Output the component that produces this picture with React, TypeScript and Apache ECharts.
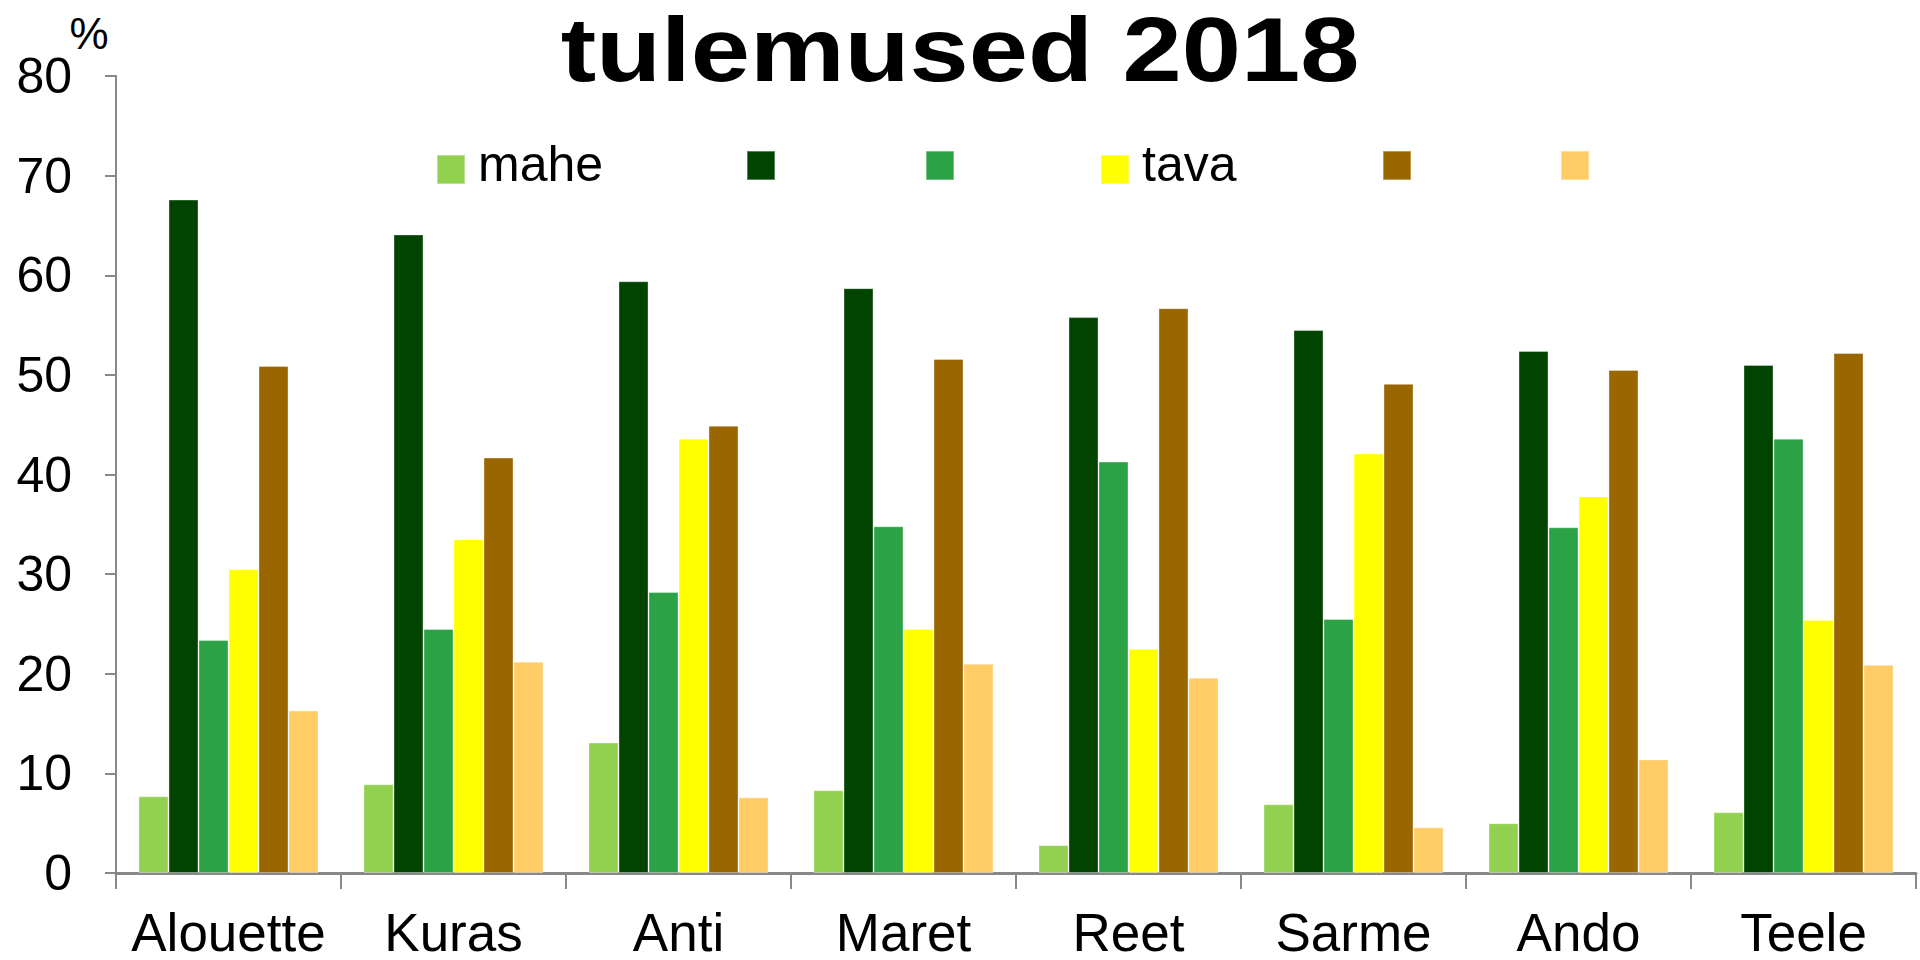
import React, { useEffect, useRef } from 'react';
import * as echarts from 'echarts';

const categories = ['Alouette', 'Kuras', 'Anti', 'Maret', 'Reet', 'Sarme', 'Ando', 'Teele'];
const seriesNames = ['mahe', 's2', 's3', 'tava', 's5', 's6'];
const legendLabels = ['mahe', '', '', 'tava', '', ''];
const mahe = [7.7, 8.9, 13.1, 8.3, 2.8, 6.9, 5.0, 6.1];
const darkGreen = [67.6, 64.1, 59.4, 58.7, 55.8, 54.5, 52.4, 51.0];
const green = [23.4, 24.5, 28.2, 34.8, 41.3, 25.5, 34.7, 43.6];
const tava = [30.5, 33.5, 43.6, 24.5, 22.5, 42.1, 37.8, 25.4];
const brown = [50.9, 41.7, 44.9, 51.6, 56.7, 49.1, 50.5, 52.2];
const orange = [16.3, 21.2, 7.6, 21.0, 19.6, 4.6, 11.4, 20.9];
const seriesValues = [mahe, darkGreen, green, tava, brown, orange];
const colors = ['#92D050', '#004400', '#2AA245', '#FFFF00', '#996600', '#FFCC66'];
const titleText = 'tulemused 2018';
const unitText = '%';

const FONT = '"Liberation Sans", Arial, Helvetica, sans-serif';
const legendLefts = [436, 746, 925, 1100, 1382, 1560];

export default function App() {
  const ref = useRef<HTMLDivElement>(null);
  useEffect(() => {
    if (!ref.current) return;
    const chart = echarts.init(ref.current, undefined, { renderer: 'svg' });
    const option: any = {
      animation: false,
      backgroundColor: '#ffffff',
      textStyle: { fontFamily: FONT, color: '#000' },
      grid: { left: 116, right: 4, top: 76, bottom: 87, containLabel: false },
      legend: seriesNames.map((n, i) => ({
        data: [n],
        left: legendLefts[i],
        top: 139,
        padding: 0,
        itemWidth: 28,
        itemHeight: 40,
        icon: 'path://M0,0M0,11h28v29h-28z',
        selectedMode: false,
        formatter: () => legendLabels[i],
        textStyle: { fontSize: 50, color: '#000', fontFamily: FONT, padding: [0, 0, 0, 8] },
      })),
      xAxis: {
        type: 'category',
        data: categories,
        axisLine: { show: true, lineStyle: { color: '#888888', width: 3 } },
        axisTick: { show: true, interval: 0, length: 16, lineStyle: { color: '#888888', width: 2 } },
        axisLabel: { interval: 0, fontSize: 53, lineHeight: 44, color: '#000', margin: 37, fontFamily: FONT },
      },
      yAxis: {
        type: 'value',
        min: 0,
        max: 80,
        interval: 10,
        axisLine: { show: true, lineStyle: { color: '#888888', width: 2 } },
        axisTick: { show: true, length: 11, lineStyle: { color: '#888888', width: 2 } },
        axisLabel: { fontSize: 50, color: '#000', margin: 44, fontFamily: FONT },
        splitLine: { show: false },
      },
      series: seriesNames.map((n, i) => ({
        name: n,
        type: 'bar',
        data: seriesValues[i],
        barGap: '0%',
        barCategoryGap: '20%',
        itemStyle: { color: colors[i], borderColor: 'rgba(255,255,255,0.35)', borderWidth: 1 },
      })),
      graphic: [
        {
          type: 'text',
          x: 960,
          y: 49,
          scaleX: 1.17,
          style: {
            text: titleText,
            fontSize: 91,
            lineHeight: 76,
            fontWeight: 'bold',
            fontFamily: FONT,
            fill: '#000',
            align: 'center',
            verticalAlign: 'middle',
            textAlign: 'center',
            textVerticalAlign: 'middle',
          },
        },
        {
          type: 'text',
          x: 89,
          y: 33,
          style: {
            text: unitText,
            fontSize: 44,
            fontFamily: FONT,
            fill: '#000',
            align: 'center',
            verticalAlign: 'middle',
            textAlign: 'center',
            textVerticalAlign: 'middle',
          },
        },
      ],
    };
    chart.setOption(option);
    return () => chart.dispose();
  }, []);
  return <div ref={ref} style={{ position: 'fixed', left: 0, top: 0, width: 1920, height: 960 }} />;
}
